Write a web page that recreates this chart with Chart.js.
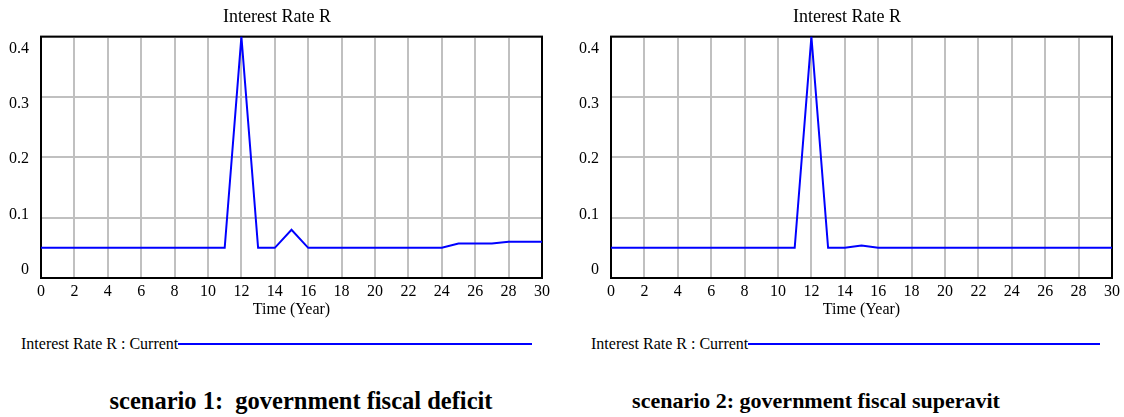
<!DOCTYPE html>
<html>
<head>
<meta charset="utf-8">
<title>Interest Rate R</title>
<script src="https://cdn.jsdelivr.net/npm/chart.js@4.4.0/dist/chart.umd.min.js"></script>
<style>
    body { margin: 0; background: #fff; font-family: 'Liberation Serif', 'Times New Roman', serif; color: #000; }
    #page { position: relative; width: 1124px; height: 417px; overflow: hidden; }
    .box { position: absolute; top: 0; width: 554px; height: 320px; }
    .legend { position: absolute; top: 335px; display: flex; align-items: center; font-size: 16px; line-height: 18px; }
    .legend .swatch { flex: 1; height: 2px; background: #0000ff; }
    .caption { position: absolute; top: 387px; line-height: 28px; font-weight: bold; white-space: pre; text-align: center; }
</style>
</head>
<body>
<div id="page">
    <div class="box" style="left:0px"><canvas id="chartDeficit"></canvas></div>
    <div class="box" style="left:570px"><canvas id="chartSuperavit"></canvas></div>

    <div class="legend" style="left:21px; width:511px"><span>Interest Rate R : Current</span><div class="swatch"></div></div>
    <div class="legend" style="left:591px; width:509px"><span>Interest Rate R : Current</span><div class="swatch"></div></div>

    <div class="caption" style="left:0px; width:602px; font-size:24.5px">scenario 1:  government fiscal deficit</div>
    <div class="caption" style="left:516px; width:600px; font-size:22px">scenario 2: government fiscal superavit</div>
</div>

<script>
// Time (Year)
var years = [0, 1, 2, 3, 4, 5, 6, 7, 8, 9, 10, 11, 12, 13, 14, 15, 16, 17, 18, 19, 20, 21, 22, 23, 24, 25, 26, 27, 28, 29, 30];

// Interest Rate R : Current, scenario 1 (fiscal deficit)
var rateDeficit = [0.05, 0.05, 0.05, 0.05, 0.05, 0.05, 0.05, 0.05, 0.05, 0.05, 0.05, 0.05, 0.4, 0.05, 0.05, 0.08,
    0.05, 0.05, 0.05, 0.05, 0.05, 0.05, 0.05, 0.05, 0.05, 0.057, 0.057, 0.057, 0.06, 0.06, 0.06];

// Interest Rate R : Current, scenario 2 (fiscal superavit)
var rateSuperavit = [0.05, 0.05, 0.05, 0.05, 0.05, 0.05, 0.05, 0.05, 0.05, 0.05, 0.05, 0.05, 0.4, 0.05, 0.05, 0.054,
    0.05, 0.05, 0.05, 0.05, 0.05, 0.05, 0.05, 0.05, 0.05, 0.05, 0.05, 0.05, 0.05, 0.05, 0.05];

var xTicks = [0, 2, 4, 6, 8, 10, 12, 14, 16, 18, 20, 22, 24, 26, 28, 30];
var yTicks = [0, 0.1, 0.2, 0.3, 0.4];

Chart.defaults.font.family = "'Liberation Serif', 'Times New Roman', serif";
Chart.defaults.font.size = 16;
Chart.defaults.color = '#000';

// black box round the plot, under the line
var plotFrame = {
    id: 'plotFrame',
    beforeDatasetsDraw: (chart) => {
        let a = chart.chartArea;
        let ctx = chart.ctx;
        ctx.save();
        ctx.strokeStyle = '#000';
        ctx.lineWidth = 2;
        ctx.strokeRect(a.left, a.top, a.right - a.left, a.bottom - a.top);
        ctx.restore();
    }
};

makeRateChart = (canvasId, rates) => {
    let ctx = document.getElementById(canvasId).getContext('2d');
    return new Chart(ctx, {
        type: 'line',
        data: {
            datasets: [{
                label: 'Interest Rate R : Current',
                data: years.map((t, i) => ({ x: t, y: rates[i] })),
                borderColor: '#0000ff',
                borderWidth: 2,
                pointRadius: 0,
                tension: 0,
                fill: false
            }]
        },
        options: {
            responsive: true,
            maintainAspectRatio: false,
            animation: false,
            layout: { padding: 0 },
            plugins: {
                legend: { display: false },
                tooltip: { enabled: false },
                title: {
                    display: true,
                    text: 'Interest Rate R',
                    font: { size: 18, weight: 'normal' },
                    padding: { top: 6, bottom: 9 }
                }
            },
            scales: {
                x: {
                    type: 'linear',
                    min: 0,
                    max: 30,
                    afterBuildTicks: (s) => { s.ticks = xTicks.map(v => ({ value: v })); },
                    afterFit: (s) => { s.height = 42; },
                    grid: { color: '#c0c0c0', lineWidth: 2, drawTicks: false },
                    border: { display: false },
                    ticks: { padding: 4, maxRotation: 0, autoSkip: false },
                    title: { display: true, text: 'Time (Year)', padding: { top: 0, bottom: 1 } }
                },
                // grid only
                y: {
                    min: 0,
                    max: 0.4,
                    weight: 0,
                    afterBuildTicks: (s) => { s.ticks = yTicks.map(v => ({ value: v })); },
                    afterFit: (s) => { s.width = 0; },
                    grid: { color: '#c0c0c0', lineWidth: 2, drawTicks: false },
                    border: { display: false },
                    ticks: { display: false }
                },
                // labels only, spread a little wider than the grid
                yl: {
                    position: 'left',
                    weight: 1,
                    min: -0.0145,
                    max: 0.4217,
                    afterBuildTicks: (s) => { s.ticks = yTicks.map(v => ({ value: v })); },
                    afterFit: (s) => { s.width = 41; },
                    grid: { display: false, drawTicks: false },
                    border: { display: false },
                    ticks: { padding: 12, callback: (v) => String(+v.toFixed(2)) }
                }
            }
        },
        plugins: [plotFrame]
    });
};

makeRateChart('chartDeficit', rateDeficit);
makeRateChart('chartSuperavit', rateSuperavit);
</script>
</body>
</html>
